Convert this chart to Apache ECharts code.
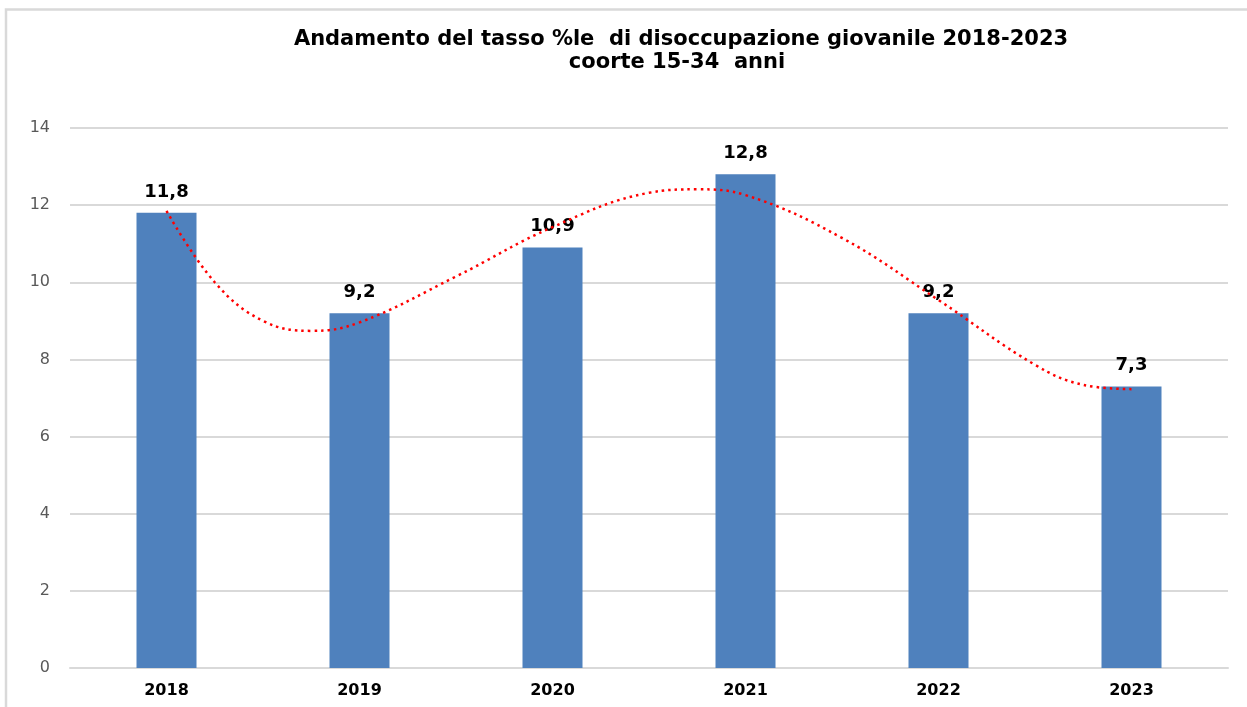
<!DOCTYPE html>
<html>
<head>
<meta charset="utf-8">
<title>Disoccupazione giovanile 2018-2023</title>
<script src="https://cdn.jsdelivr.net/npm/echarts@6/dist/echarts.min.js"></script>
<style>
  html, body { margin: 0; padding: 0; background: #fff; }
  #chart { width: 1247px; height: 707px; }
</style>
</head>
<body>
<div id="chart"></div>
<script>
  // anni e tasso %
  var years = ['2018', '2019', '2020', '2021', '2022', '2023']
  var rates = [11.8, 9.2, 10.9, 12.8, 9.2, 7.3]

  // linea di tendenza (x = indice categoria)
  var trendX = [0, 0.25, 0.5, 0.75, 1, 1.5, 2, 2.5, 2.75, 3, 3.5, 4, 4.5, 4.75, 5]
  var trendY = [11.85, 10.0, 9.0, 8.74, 8.96, 10.15, 11.43, 12.32, 12.41, 12.26, 11.15, 9.54, 7.86, 7.34, 7.23]

  var yTicks = { min: 0, max: 14, interval: 2 }

  var trendData = trendX.map(function (x, i) { return [x, trendY[i]] })

  var chart = echarts.init(document.getElementById('chart'))
  chart.setOption({
    backgroundColor: '#fff',
    animation: false,
    graphic: [
      // cornice del grafico (solo lati sinistro e superiore visibili)
      {
        type: 'polyline',
        shape: { points: [[6, 707], [6, 9.5], [1247, 9.5]] },
        style: { fill: 'none', stroke: '#D9D9D9', lineWidth: 2.5 },
        silent: true
      },
      {
        type: 'text',
        style: {
          x: 681, y: 40,
          text: 'Andamento del tasso %le  di disoccupazione giovanile 2018-2023',
          textAlign: 'center', textVerticalAlign: 'middle',
          font: 'bold 21px "DejaVu Sans"', fill: '#000'
        }
      },
      {
        type: 'text',
        style: {
          x: 677, y: 63,
          text: 'coorte 15-34  anni',
          textAlign: 'center', textVerticalAlign: 'middle',
          font: 'bold 21px "DejaVu Sans"', fill: '#000'
        }
      }
    ],
    grid: { left: 70, right: 19, top: 128, bottom: 39 },
    xAxis: [
      {
        type: 'category',
        data: years,
        axisLine: { lineStyle: { color: '#D9D9D9', width: 2 } },
        axisTick: { show: false },
        axisLabel: {
          color: '#000', fontFamily: 'DejaVu Sans', fontWeight: 'bold',
          fontSize: 16, margin: 15
        }
      },
      {
        type: 'value',
        min: -0.5,
        max: 5.5,
        show: false
      }
    ],
    yAxis: {
      type: 'value',
      min: yTicks.min,
      max: yTicks.max,
      interval: yTicks.interval,
      axisLine: { show: false },
      axisTick: { show: false },
      splitLine: { lineStyle: { color: '#D9D9D9', width: 2 } },
      axisLabel: {
        color: '#595959', fontFamily: 'DejaVu Sans', fontSize: 16, margin: 20
      }
    },
    series: [
      {
        type: 'bar',
        data: rates,
        barWidth: 60,
        itemStyle: { color: '#4F81BD' },
        label: {
          show: true,
          position: 'top',
          distance: 12,
          color: '#000',
          fontFamily: 'DejaVu Sans',
          fontWeight: 'bold',
          fontSize: 18,
          formatter: function (p) { return String(p.value).replace('.', ',') }
        }
      },
      {
        type: 'line',
        xAxisIndex: 1,
        data: trendData,
        smooth: 0.4,
        showSymbol: false,
        z: 5,
        lineStyle: { color: '#FF0000', width: 2.5, type: [2.5, 4] }
      }
    ]
  })
</script>
</body>
</html>
